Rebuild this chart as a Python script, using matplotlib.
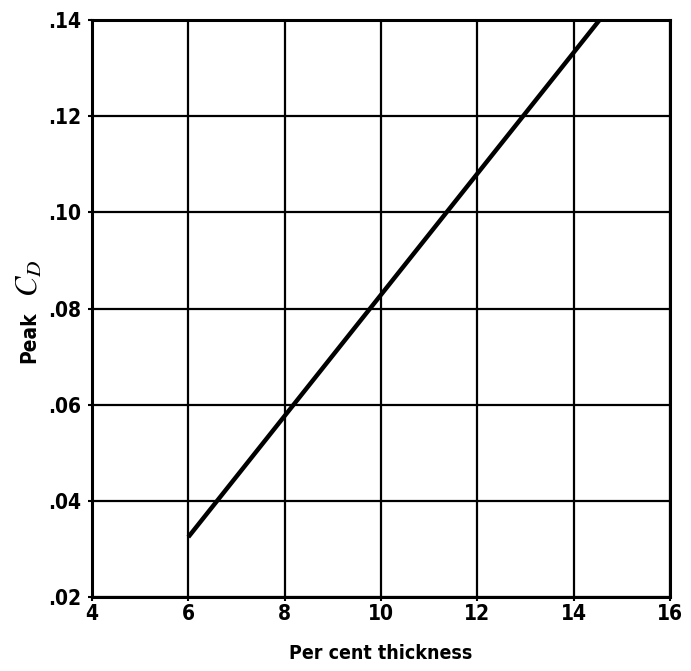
import matplotlib.pyplot as plt

thickness = [6.0, 14.53]
peak_cd = [0.0325, 0.14]
x_ticks = [4, 6, 8, 10, 12, 14, 16]
x_labels = ['4', '6', '8', '10', '12', '14', '16']
y_ticks = [0.02, 0.04, 0.06, 0.08, 0.10, 0.12, 0.14]
y_labels = ['.02', '.04', '.06', '.08', '.10', '.12', '.14']

plt.rcParams['mathtext.fontset'] = 'stix'

fig = plt.figure(figsize=(6.91, 6.71), dpi=100)
ax = fig.add_axes([0.133, 0.110, 0.837, 0.860])

ax.plot(thickness, peak_cd, color='black', linewidth=3.2, solid_capstyle='butt', zorder=3)

ax.set_xlim(4, 16)
ax.set_ylim(0.02, 0.14)
ax.set_xticks(x_ticks)
ax.set_yticks(y_ticks)

font = dict(family='DejaVu Sans', weight='bold', stretch='condensed')
ax.set_xticklabels(x_labels, fontsize=15, **font)
ax.set_yticklabels(y_labels, fontsize=15, **font)
ax.tick_params(axis='x', direction='out', length=3, width=1.5, pad=2, colors='black')
ax.tick_params(axis='y', direction='out', length=3, width=1.5, pad=5, colors='black')

ax.grid(True, color='black', linewidth=1.6)
for s in ax.spines.values():
    s.set_linewidth(2.2)
    s.set_color('black')

ax.set_xlabel('Per cent thickness', fontsize=14, labelpad=14, **font)

# y label: "Peak" in bold sans, C_D in larger italic serif
ax.text(-0.108, 0.45, 'Peak', rotation=90, ha='center', va='center',
        transform=ax.transAxes, fontsize=15, **font)
ax.text(-0.108, 0.552, r'$C_D$', rotation=90, ha='center', va='center',
        transform=ax.transAxes, fontsize=22)

fig.savefig('out.png', dpi=100, facecolor='white')
